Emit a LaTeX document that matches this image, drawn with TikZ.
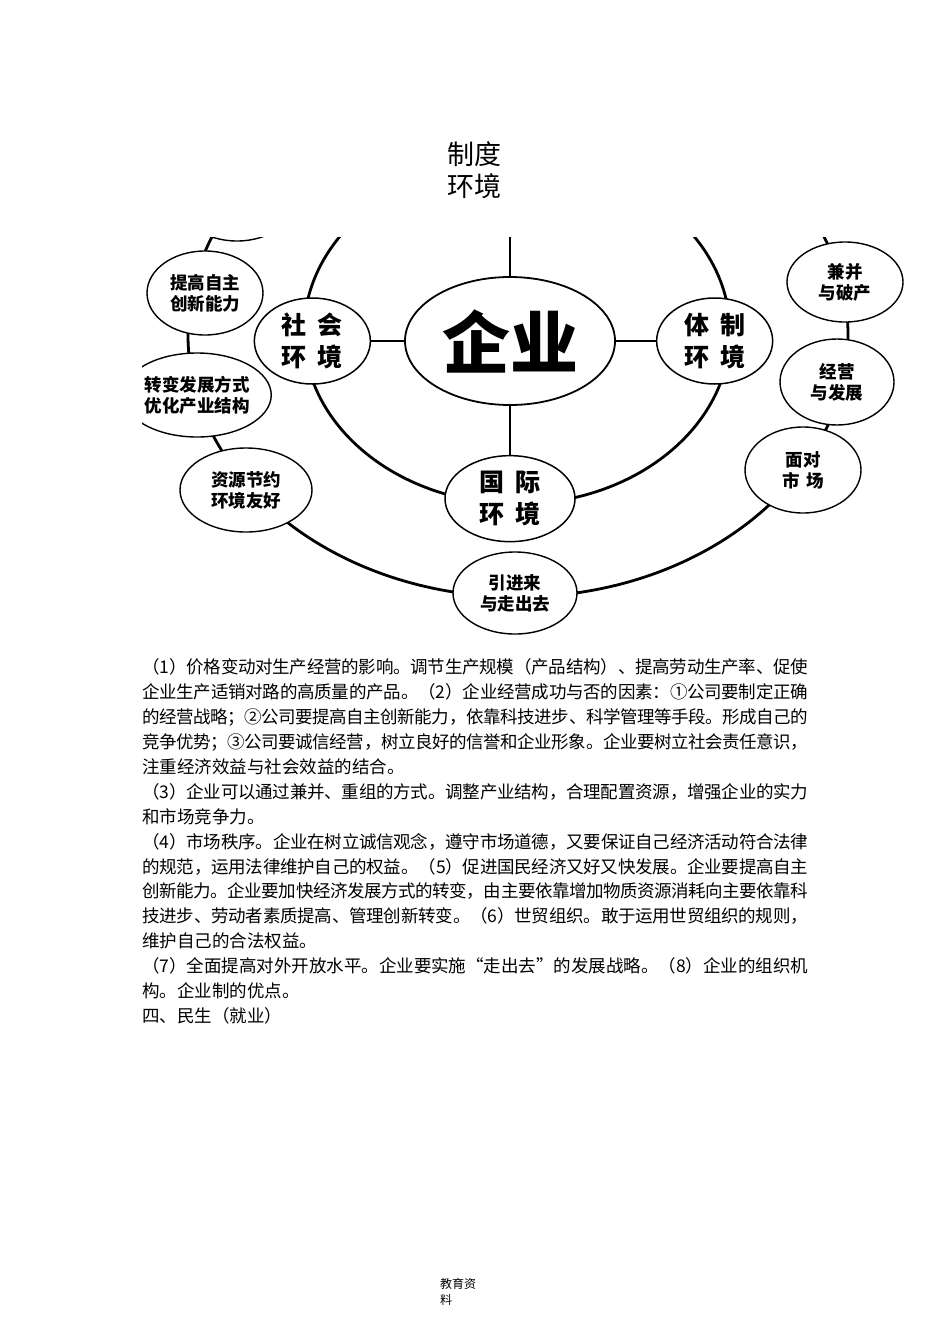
\documentclass[tikz,border=0pt]{standalone}
\usepackage{fontspec}
\setmainfont{Noto Sans CJK SC}
\usetikzlibrary{shapes.geometric,positioning}
\XeTeXlinebreaklocale "zh"
\XeTeXlinebreakskip=0pt plus 2pt minus 1pt
\newcommand{\jline}[1]{\parbox[b]{666pt}{\parindent=0pt\parfillskip=0pt\relax #1}}

\begin{document}
\begin{tikzpicture}[
  x=1pt, y=-1pt,
  ring/.style={draw=black, line width=2.8pt},
  spoke/.style={draw=black, line width=2.2pt},
  hubnode/.style={ellipse, draw=black, line width=1.8pt, fill=white,
    inner sep=0pt, minimum width=210pt, minimum height=128pt,
    font=\bfseries\fontsize{68}{68}\selectfont},
  envnode/.style={ellipse, draw=black, line width=1.5pt, fill=white,
    inner sep=0pt, minimum width=116pt, minimum height=86pt, align=center,
    font=\bfseries\fontsize{25}{32}\selectfont},
  outnode/.style={ellipse, draw=black, line width=1.4pt, fill=white,
    inner sep=0pt, minimum width=116pt, minimum height=84pt, align=center,
    font=\bfseries\fontsize{17.5}{21}\selectfont},
  bodyline/.style={anchor=base west, inner sep=0pt,
    font=\fontsize{17.5}{25}\selectfont}
]
\useasboundingbox (0,0) rectangle (950,1344);

\node[align=center, font=\fontsize{27}{32}\selectfont] (zhidu) at (474,170) {制度\\环境};

\begin{scope}
\clip (142,237) rectangle (915,638);
\draw[ring] (518,335) ellipse [x radius=330pt, y radius=262pt];
\draw[ring] (517,332) ellipse [x radius=213pt, y radius=172pt];

\node[hubnode] (qiye) at (510,341) {企业};
\node[envnode, left=33pt of qiye] (shehui) {社\hspace{0.45em}会\\环\hspace{0.45em}境};
\node[envnode, right=40pt of qiye] (tizhi) {体\hspace{0.45em}制\\环\hspace{0.45em}境};
\node[envnode, minimum width=130pt, below=49pt of qiye] (guoji) {国\hspace{0.45em}际\\环\hspace{0.45em}境};
\coordinate (spoketop) at (510,200);

\draw[spoke] (shehui) -- (qiye);
\draw[spoke] (qiye) -- (tizhi);
\draw[spoke] (qiye) -- (guoji);
\draw[spoke] (qiye) -- (spoketop);

\node[outnode, minimum height=82pt] (lefttop) at (237,200) {};
\node[outnode] (tigao) at (205,293) {提高自主\\创新能力};
\node[outnode] (zhuanbian) at (197,395) {转变发展方式\\优化产业结构};
\node[outnode, minimum width=132pt] (ziyuan) at (246,490) {资源节约\\环境友好};
\node[outnode, minimum width=124pt, minimum height=82pt] (yinjin) at (515,593) {引进来\\与走出去};
\node[outnode, minimum height=86pt] (miandui) at (803,470) {面对\\市\hspace{0.4em}场};
\node[outnode, minimum width=114pt, minimum height=86pt] (jingying) at (837,382) {经营\\与发展};
\node[outnode, minimum height=80pt] (jianbing) at (845,282) {兼并\\与破产};
\end{scope}

\node[bodyline] (l1) at (142,673.5) {\jline{（1）价格变动对生产经营的影响。调节生产规模（产品结构）、提高劳动生产率、促使}};
\node[bodyline] (l2) at (142,698.4) {\jline{企业生产适销对路的高质量的产品。（2）企业经营成功与否的因素：①公司要制定正确}};
\node[bodyline] (l3) at (142,723.4) {\jline{的经营战略；②公司要提高自主创新能力，依靠科技进步、科学管理等手段。形成自己的}};
\node[bodyline] (l4) at (142,748.3) {\jline{竞争优势；③公司要诚信经营，树立良好的信誉和企业形象。企业要树立社会责任意识，}};
\node[bodyline] (l5) at (142,773.2) {注重经济效益与社会效益的结合。};
\node[bodyline] (l6) at (142,798.2) {\jline{（3）企业可以通过兼并、重组的方式。调整产业结构，合理配置资源，增强企业的实力}};
\node[bodyline] (l7) at (142,823.1) {和市场竞争力。};
\node[bodyline] (l8) at (142,848.0) {\jline{（4）市场秩序。企业在树立诚信观念，遵守市场道德，又要保证自己经济活动符合法律}};
\node[bodyline] (l9) at (142,873.0) {\jline{的规范，运用法律维护自己的权益。（5）促进国民经济又好又快发展。企业要提高自主}};
\node[bodyline] (l10) at (142,897.9) {\jline{创新能力。企业要加快经济发展方式的转变，由主要依靠增加物质资源消耗向主要依靠科}};
\node[bodyline] (l11) at (142,922.8) {\jline{技进步、劳动者素质提高、管理创新转变。（6）世贸组织。敢于运用世贸组织的规则，}};
\node[bodyline] (l12) at (142,947.7) {维护自己的合法权益。};
\node[bodyline] (l13) at (142,972.7) {\jline{（7）全面提高对外开放水平。企业要实施“走出去”的发展战略。（8）企业的组织机}};
\node[bodyline] (l14) at (142,997.6) {构。企业制的优点。};
\node[bodyline] (l15) at (142,1022.5) {四、民生（就业）};

\node[anchor=north west, align=left, inner sep=0pt, font=\fontsize{12}{16}\selectfont] (footer) at (440,1278) {教育资\\料};
\end{tikzpicture}
\end{document}
